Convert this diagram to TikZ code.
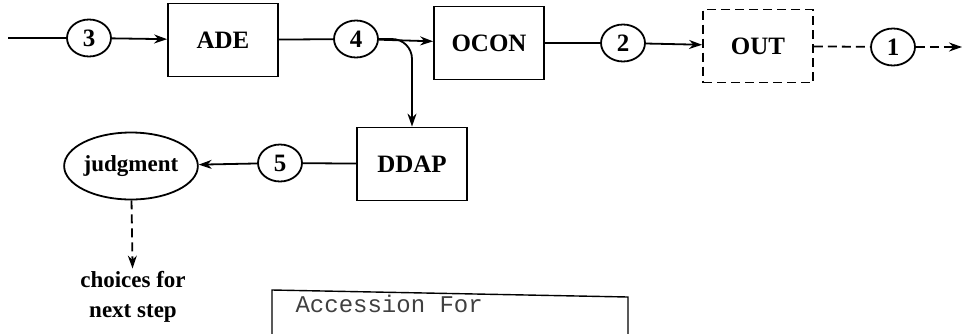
\documentclass[tikz,border=0pt]{standalone}
\usepackage{fontspec}
\setmainfont{Liberation Serif}
\setmonofont{Liberation Mono}
\usetikzlibrary{arrows.meta,positioning,shapes.geometric}

\begin{document}
\begin{tikzpicture}[
        x=0.5pt, y=-0.5pt,
        every node/.style={font=\fontsize{11.5}{15}\selectfont\bfseries, align=center},
        line width=0.9pt,
        proc/.style={draw, minimum width=55pt, minimum height=36.5pt, inner sep=0pt, font=\fontsize{12.5}{15}\selectfont\bfseries},
        flow/.style={draw, ellipse, minimum width=22pt, minimum height=18.5pt, inner sep=0pt, font=\fontsize{12.5}{15}\selectfont\bfseries},
        judge/.style={draw, ellipse, minimum width=57.5pt, minimum height=33.5pt, inner sep=0pt},
        dashes/.style={dash pattern=on 4.5pt off 2.5pt},
        >={Stealth[length=6.5pt,width=4.5pt]}
      ]
      \useasboundingbox (0,0) rectangle (962,333);
      \clip (0,0) rectangle (962,333);
      % main row
      \coordinate (src) at (8,38);
      \node[flow] (f3) at (89,38) {3};
      \node[proc] (ade) at (223,40) {ADE};
      \node[flow] (f4) at (356,39) {4};
      \node[proc] (ocon) at (489,43) {OCON};
      \node[flow] (f2) at (623,43) {2};
      \node[proc, dashes] (out) at (758,46) {OUT};
      \node[flow] (f1) at (893,47) {1};
      \coordinate (sink) at (962,47);
      % lower row
      \node[proc] (ddap) at (412,164) {DDAP};
      \node[flow] (f5) at (280,163) {5};
      \node[judge] (judg) at (131,166) {judgment};
      \node[inner sep=1pt] (next) at (133,297) {choices for\\next step};

      \draw (src) -- (f3);
      \draw[->] (f3) -- (ade);
      \draw (ade) -- (f4);
      \draw[->] (f4) -- (ocon);
      \draw[->, rounded corners=10pt] (f4.east) -| (ddap.north);
      \draw (ocon) -- (f2);
      \draw[->] (f2) -- (out);
      \draw[dashes] (out) -- (f1);
      \draw[dashes, ->] (f1) -- (sink);
      \draw (ddap) -- (f5);
      \draw[->] (f5) -- (judg);
      \draw[dashes, ->] (judg) -- (next);

      % form fragment at the bottom
      \draw[line width=0.7pt] (272,345) -- (272,290) -- (628,297) -- (628,345);
      \node[anchor=west, font=\fontsize{12}{14}\ttfamily, text=black!75] (acc) at (288,304) {Accession For};
    \end{tikzpicture}
\end{document}
